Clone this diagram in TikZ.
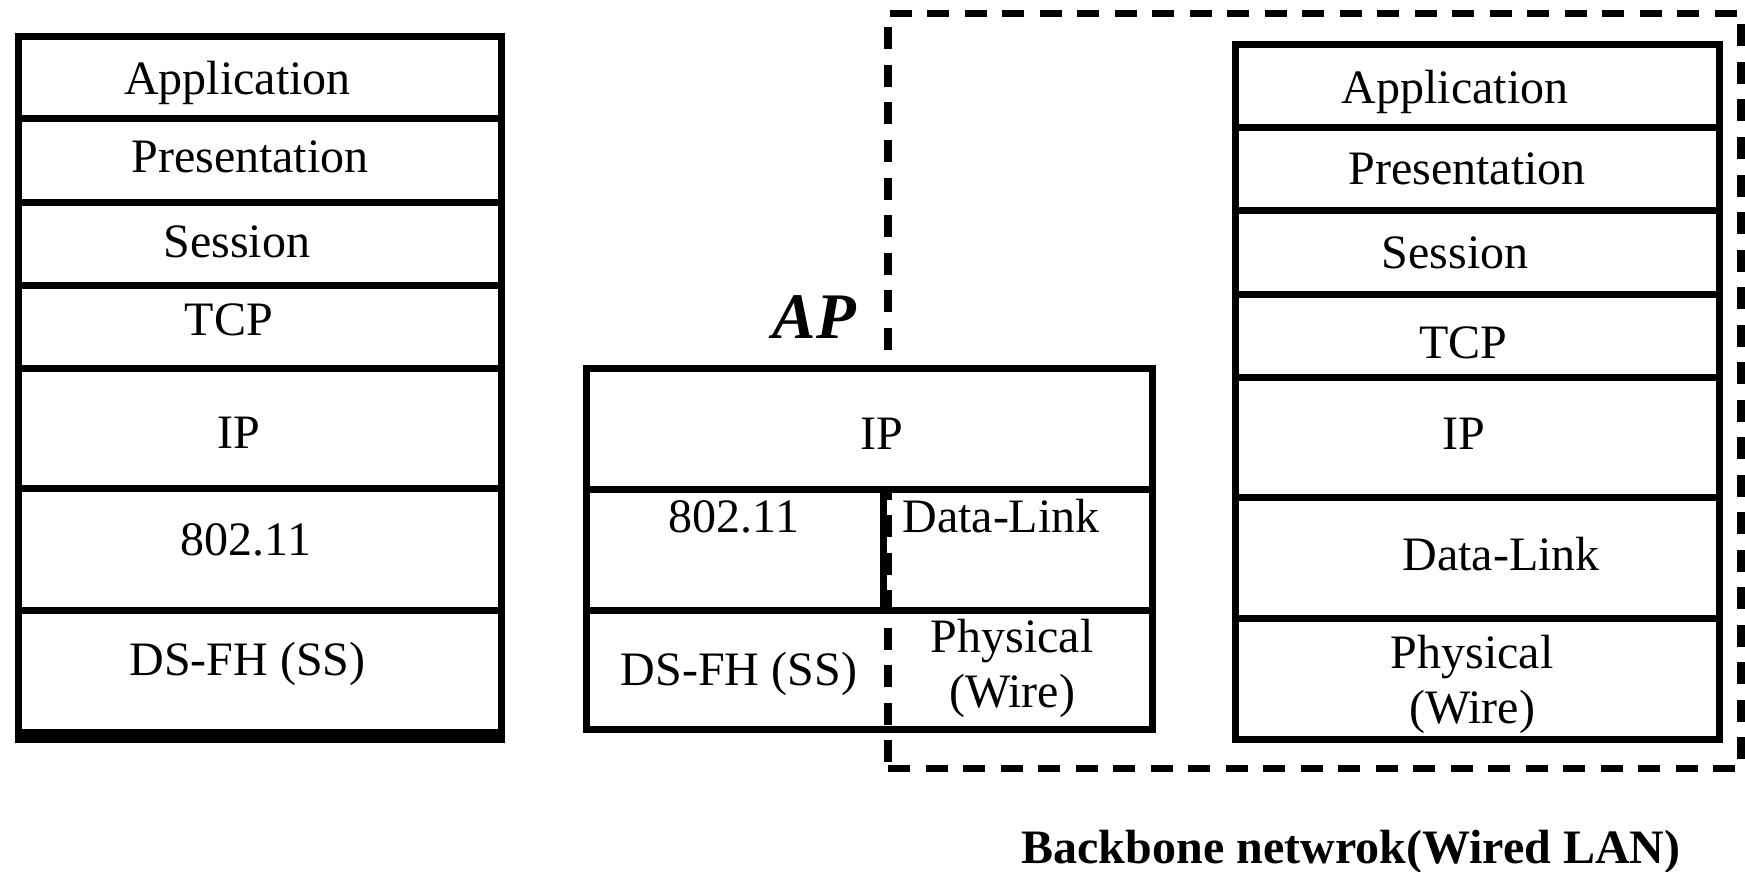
\documentclass[tikz,border=0pt]{standalone}
\usepackage{fontspec}
\setmainfont{Liberation Serif}
\usetikzlibrary{fit}

\tikzset{
  cell/.style={draw, line width=7pt, inner sep=0pt, outer sep=0pt},
  ipcell/.style={cell, fill=white},
  thickline/.style={line width=7pt},
  txt/.style={inner sep=0pt, anchor=base, font=\fontsize{48}{55}\selectfont},
  txttwo/.style={inner sep=0pt, align=center, font=\fontsize{48}{55}\selectfont},
  aplabel/.style={inner sep=0pt, anchor=base, font=\fontsize{65}{70}\selectfont\bfseries\itshape},
  bblabel/.style={inner sep=0pt, anchor=base, font=\fontsize{48}{55}\selectfont\bfseries},
  backbone/.style={draw, line width=7.5pt, inner sep=0pt, outer sep=0pt, dash pattern=on 22pt off 15.5pt},
}

\begin{document}
\begin{tikzpicture}[x=1pt, y=-1pt]
\useasboundingbox (0,0) rectangle (1745,872);

% wired backbone region
\node[backbone, fit={(888,13.5) (1741,768.5)}] (bb) {};

% wireless station stack
\node[cell, fit={(18.5,36.5) (501.5,119)}] (lApp) {};
\node[cell, fit={(18.5,119) (501.5,202)}] (lPre) {};
\node[cell, fit={(18.5,202) (501.5,285)}] (lSes) {};
\node[cell, fit={(18.5,285) (501.5,368)}] (lTcp) {};
\node[cell, fit={(18.5,368) (501.5,488)}] (lIp) {};
\node[cell, fit={(18.5,488) (501.5,610)}] (lWl) {};
\node[cell, fit={(18.5,610) (501.5,732)}] (lPhy) {};
\draw[thickline] ([xshift=-3.5pt,yshift=-7pt]lPhy.south west) -- ([xshift=3.5pt,yshift=-7pt]lPhy.south east);

\node[txt] (tlApp) at (237.5,95) {Application};
\node[txt] (tlPre) at (250,172) {Presentation};
\node[txt] (tlSes) at (237,257) {Session};
\node[txt] (tlTcp) at (229,335) {TCP};
\node[txt] (tlIp)  at (239,448) {IP};
\node[txt] (tlWl)  at (246,555) {802.11};
\node[txt] (tlPhy) at (247.5,675) {DS-FH (SS)};

% access point stack
\node[ipcell, fit={(586,368.5) (1152,489)}] (mIp) {};
\node[cell, fit={(586,489) (883.5,610.5)}] (mWl) {};
\node[cell, fit={(883.5,489) (1152,610.5)}] (mDl) {};
\node[cell, fit={(586,610.5) (1152,729)}] (mPhy) {};

\node[aplabel] (tAP) at (814.5,338) {AP};
\node[txt] (tmIp) at (882,449) {IP};
\node[txt] (tmWl) at (734,532) {802.11};
\node[txt] (tmDl) at (1001,532) {Data-Link};
\node[txt] (tmDs) at (739,685) {DS-FH (SS)};
\node[txttwo] (tmPhy) at (1012,668) {Physical\\(Wire)};

% wired host stack
\node[cell, fit={(1235,45) (1719,128)}] (rApp) {};
\node[cell, fit={(1235,128) (1719,210.5)}] (rPre) {};
\node[cell, fit={(1235,210.5) (1719,294)}] (rSes) {};
\node[cell, fit={(1235,294) (1719,377)}] (rTcp) {};
\node[cell, fit={(1235,377) (1719,497)}] (rIp) {};
\node[cell, fit={(1235,497) (1719,618)}] (rDl) {};
\node[cell, fit={(1235,618) (1719,739.5)}] (rPhy) {};

\node[txt] (trApp) at (1455,104) {Application};
\node[txt] (trPre) at (1467,184) {Presentation};
\node[txt] (trSes) at (1455,268) {Session};
\node[txt] (trTcp) at (1463,358) {TCP};
\node[txt] (trIp)  at (1464,449) {IP};
\node[txt] (trDl)  at (1501,570) {Data-Link};
\node[txttwo] (trPhy) at (1472,684) {Physical\\(Wire)};

\node[bblabel] (tbb) at (1351,863) {Backbone netwrok(Wired LAN)};
\end{tikzpicture}
\end{document}
